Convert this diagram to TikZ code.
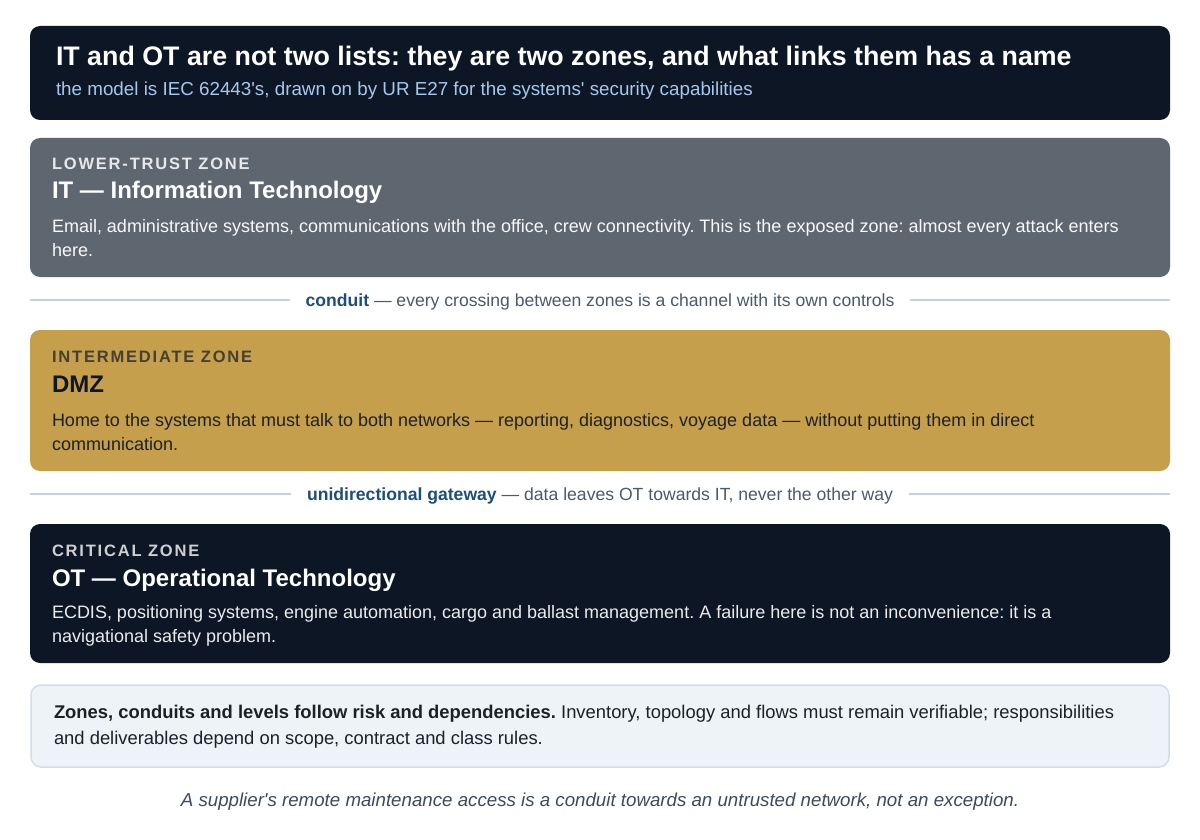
\documentclass[tikz,border=0pt]{standalone}
\usepackage{fontspec}
\setmainfont{Liberation Sans}
\usetikzlibrary{positioning}
\definecolor{navy}{HTML}{0C1624}
\definecolor{itgray}{HTML}{5E6670}
\definecolor{gold}{HTML}{C59F4B}
\definecolor{subblue}{HTML}{A8C7EC}
\definecolor{linec}{HTML}{C5D0DC}
\definecolor{condbold}{HTML}{1D4F7C}
\definecolor{condtext}{HTML}{4B5A69}
\definecolor{notefill}{HTML}{EEF3F8}
\definecolor{notedraw}{HTML}{D3DDE6}
\definecolor{notetext}{HTML}{1C2128}
\definecolor{foottext}{HTML}{3D4B5C}
\definecolor{dmzlabel}{HTML}{454033}
\tikzset{
  zonebox/.style={rounded corners=10pt, draw=none},
  txt/.style={anchor=base west, inner sep=0pt, outer sep=0pt},
  lbl/.style={txt, font=\fontsize{16.5}{20}\selectfont\bfseries\addfontfeatures{LetterSpace=11}},
  ztitle/.style={txt, font=\fontsize{24}{28}\selectfont\bfseries},
  body/.style={txt, align=left, font=\fontsize{18}{24}\selectfont},
  condlbl/.style={inner sep=0pt, outer sep=16pt, anchor=base, font=\fontsize{17.6}{20}\selectfont, text=condtext},
  sepline/.style={draw=linec, line width=1.5pt},
}
\begin{document}
\frenchspacing
\begin{tikzpicture}[x=1pt,y=-1pt]
\useasboundingbox[fill=white] (0,0) rectangle (1200,840);
% header
\path[zonebox, fill=navy] (30,26) rectangle (1170,120);
\node[txt, text=white, font=\fontsize{26.8}{30}\selectfont\bfseries] (title) at (56,66) {IT and OT are not two lists: they are two zones, and what links them has a name};
\node[txt, text=subblue, font=\fontsize{18.8}{22}\selectfont] (subtitle) at (56,96) {the model is IEC 62443\textquotesingle s, drawn on by UR E27 for the systems\textquotesingle\ security capabilities};
% IT zone
\path[zonebox, fill=itgray] (30,138) rectangle (1170,277);
\node[lbl, text=white!85!itgray] (itlbl) at (52,170) {LOWER-TRUST ZONE};
\node[ztitle, text=white] (ittitle) at (52,199) {IT — Information Technology};
\node[body, text=white!96!itgray] (itbody) at (52,256) {Email, administrative systems, communications with the office, crew connectivity. This is the exposed zone: almost every attack enters\\here.};
% conduit
\coordinate (c1l) at (30,300);
\coordinate (c1r) at (1170,300);
\node[condlbl] (cond1) at (600,306) {\textcolor{condbold}{\bfseries conduit} — every crossing between zones is a channel with its own controls};
\draw[sepline] (c1l) -- (cond1.west |- c1l);
\draw[sepline] (cond1.east |- c1r) -- (c1r);
% DMZ
\path[zonebox, fill=gold] (30,330) rectangle (1170,471);
\node[lbl, text=dmzlabel] (dmzlbl) at (52,362) {INTERMEDIATE ZONE};
\node[ztitle, text=navy] (dmztitle) at (52,392) {DMZ};
\node[body, text=notetext] (dmzbody) at (52,450) {Home to the systems that must talk to both networks — reporting, diagnostics, voyage data — without putting them in direct\\communication.};
% gateway
\coordinate (c2l) at (30,494);
\coordinate (c2r) at (1170,494);
\node[condlbl] (cond2) at (600,500) {\textcolor{condbold}{\bfseries unidirectional gateway} — data leaves OT towards IT, never the other way};
\draw[sepline] (c2l) -- (cond2.west |- c2l);
\draw[sepline] (cond2.east |- c2r) -- (c2r);
% OT
\path[zonebox, fill=navy] (30,524) rectangle (1170,663);
\node[lbl, text=white!80!navy] (otlbl) at (52,556) {CRITICAL ZONE};
\node[ztitle, text=white] (ottitle) at (52,586) {OT — Operational Technology};
\node[body, text=white!92!navy] (otbody) at (52,642) {ECDIS, positioning systems, engine automation, cargo and ballast management. A failure here is not an inconvenience: it is a\\navigational safety problem.};
% note
\path[rounded corners=10pt, fill=notefill, draw=notedraw, line width=1.5pt] (31,685) rectangle (1169,767);
\node[txt, align=left, text=notetext, font=\fontsize{18.4}{26}\selectfont] (note) at (54,744) {\textbf{Zones, conduits and levels follow risk and dependencies.} Inventory, topology and flows must remain verifiable; responsibilities\\and deliverables depend on scope, contract and class rules.};
% footer
\node[inner sep=0pt, anchor=base, text=foottext, font=\fontsize{18.7}{22}\selectfont\itshape] (foot) at (600,806) {A supplier\textquotesingle s remote maintenance access is a conduit towards an untrusted network, not an exception.};
\end{tikzpicture}
\end{document}
